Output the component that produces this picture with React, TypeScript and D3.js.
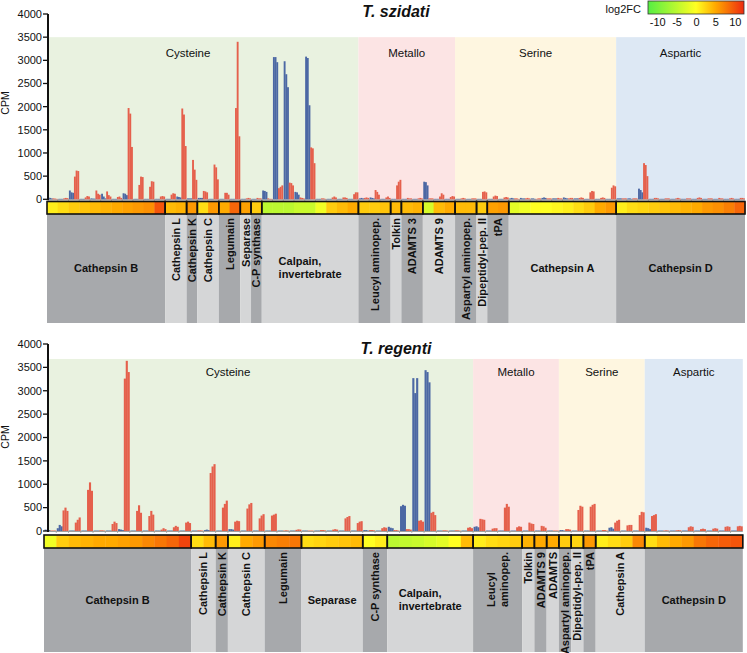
import React from "react";
import * as d3 from "d3";

const FONT = "'Liberation Sans', Arial, Helvetica, sans-serif";

type Seg = { name: string; n: number; fam: string };

const families = ["Cysteine", "Metallo", "Serine", "Aspartic"];
const familyColors = ["#e9f2e0", "#fce4e4", "#fef6e0", "#dde8f4"];
const cpmTicks = [0, 500, 1000, 1500, 2000, 2500, 3000, 3500, 4000];
const legendTicks = [-10, -5, 0, 5, 10];

// ---------- T. szidati ----------
const szSegments: Seg[] = [
  { name: "Cathepsin B", n: 11, fam: "Cysteine" },
  { name: "Cathepsin L", n: 2, fam: "Cysteine" },
  { name: "Cathepsin K", n: 1, fam: "Cysteine" },
  { name: "Cathepsin C", n: 2, fam: "Cysteine" },
  { name: "Legumain", n: 2, fam: "Cysteine" },
  { name: "Separase", n: 1, fam: "Cysteine" },
  { name: "C-P synthase", n: 1, fam: "Cysteine" },
  { name: "Calpain,\ninvertebrate", n: 9, fam: "Cysteine" },
  { name: "Leucyl aminopep.", n: 3, fam: "Metallo" },
  { name: "Tolkin", n: 1, fam: "Metallo" },
  { name: "ADAMTS 3", n: 2, fam: "Metallo" },
  { name: "ADAMTS 9", n: 3, fam: "Metallo" },
  { name: "Aspartyl aminopep.", n: 2, fam: "Serine" },
  { name: "Dipeptidyl-pep. II", n: 1, fam: "Serine" },
  { name: "tPA", n: 2, fam: "Serine" },
  { name: "Cathepsin A", n: 10, fam: "Serine" },
  { name: "Cathepsin D", n: 12, fam: "Aspartic" },
];

const szFC = [
  1, 2, 3, 3.5, 4, 4.5, 5, 5.5, 6, 6.5, 10,
  4, 4.5,
  6,
  2, 6,
  5, 9,
  5.5,
  3,
  -5, -5, -5, -4, -4, -1, 3, 4, 5,
  3, 3, 3.5,
  4,
  4, 4.5,
  -3, 4, 5,
  4, 4,
  3,
  5.5, 6,
  -2, -1, 0, 0, 0.5, 1, 2, 3, 5, 6,
  1, 2, 2.5, 3, 3.5, 4, 4.5, 5, 6, 6.5, 7.5, 9,
];

const szBlue = [
  [40, 30, 20], [10, 10, 10], [190, 150, 140], [10, 10, 10], [20, 15, 15], [120, 60, 20],
  [10, 10, 10], [130, 120, 90], [10, 10, 10], [10, 10, 10], [10, 10, 10],
  [10, 10, 10], [60, 50, 40],
  [20, 20, 20],
  [30, 30, 30], [10, 10, 10],
  [10, 10, 10], [10, 10, 10],
  [10, 10, 10],
  [10, 10, 10],
  [190, 180, 160], [3070, 3070, 2960], [2980, 2700, 2420], [160, 150, 100], [3080, 3050, 2030],
  [10, 10, 10], [10, 10, 10], [10, 10, 10], [10, 10, 10],
  [20, 30, 20], [40, 30, 20], [10, 10, 10],
  [10, 10, 10],
  [10, 10, 10], [10, 10, 10],
  [380, 370, 300], [10, 10, 10], [10, 10, 10],
  [10, 10, 10], [10, 10, 10],
  [10, 10, 10],
  [10, 10, 10], [10, 10, 10],
  [20, 30, 20], [30, 20, 20], [20, 20, 10], [30, 40, 30], [20, 20, 20], [40, 30, 20],
  [20, 20, 20], [10, 10, 10], [10, 10, 10], [10, 10, 10],
  [20, 20, 20], [20, 20, 10], [230, 200, 150], [10, 10, 10], [10, 10, 10], [10, 10, 10],
  [10, 10, 10], [10, 10, 10], [10, 10, 10], [10, 10, 10], [10, 10, 10], [10, 10, 10],
];

const szRed = [
  [20, 15, 10], [20, 30, 25], [490, 620, 610], [40, 70, 60], [190, 120, 100], [170, 90, 60],
  [50, 60, 30], [1970, 1850, 1130], [310, 490, 480], [270, 390, 380], [60, 70, 60],
  [100, 130, 120], [1960, 1830, 1150],
  [850, 640, 420],
  [180, 170, 150], [750, 690, 430],
  [140, 140, 100], [1970, 3400, 1360],
  [20, 30, 20],
  [30, 20, 20],
  [20, 10, 10], [240, 270, 300], [360, 350, 300], [40, 30, 20], [1120, 1100, 780],
  [20, 20, 10], [40, 60, 40], [40, 40, 30], [110, 150, 150],
  [30, 40, 30], [200, 160, 100], [40, 60, 30],
  [300, 380, 420],
  [30, 20, 20], [20, 30, 20],
  [20, 20, 20], [60, 130, 100], [50, 70, 60],
  [20, 30, 20], [20, 20, 20],
  [160, 170, 150],
  [60, 80, 70], [40, 50, 40],
  [20, 20, 10], [20, 30, 20], [10, 20, 20], [20, 20, 20], [30, 20, 20], [20, 30, 30],
  [30, 40, 30], [150, 180, 170], [30, 40, 30], [250, 300, 280],
  [20, 20, 20], [20, 20, 20], [780, 740, 500], [30, 30, 20], [20, 20, 20], [20, 30, 20],
  [20, 20, 20], [30, 40, 30], [20, 20, 20], [30, 20, 20], [20, 30, 20], [30, 30, 20],
];

// ---------- T. regenti ----------
const trSegments: Seg[] = [
  { name: "Cathepsin B", n: 12, fam: "Cysteine" },
  { name: "Cathepsin L", n: 2, fam: "Cysteine" },
  { name: "Cathepsin K", n: 1, fam: "Cysteine" },
  { name: "Cathepsin C", n: 3, fam: "Cysteine" },
  { name: "Legumain", n: 3, fam: "Cysteine" },
  { name: "Separase", n: 5, fam: "Cysteine" },
  { name: "C-P synthase", n: 2, fam: "Cysteine" },
  { name: "Calpain,\ninvertebrate", n: 7, fam: "Cysteine" },
  { name: "Leucyl\naminopep.", n: 4, fam: "Metallo" },
  { name: "Tolkin", n: 1, fam: "Metallo" },
  { name: "ADAMTS 9", n: 1, fam: "Metallo" },
  { name: "ADAMTS", n: 1, fam: "Metallo" },
  { name: "Aspartyl aminopep.", n: 1, fam: "Serine" },
  { name: "Dipeptidyl-pep. II", n: 1, fam: "Serine" },
  { name: "tPA", n: 1, fam: "Serine" },
  { name: "Cathepsin A", n: 4, fam: "Serine" },
  { name: "Cathepsin D", n: 8, fam: "Aspartic" },
];

const trFC = [
  -1, 3, 4, 4.5, 5, 5, 5.5, 6, 7, 8, 9, 11,
  2, 4,
  6,
  1, 5, 6,
  7, 7.5, 8,
  2, 2.5, 3, 3.5, 4,
  0, 1,
  -5, -4.5, -4, -3, -2, 0, 4,
  1, 2, 2.5, 3,
  4.5,
  5,
  5,
  3,
  2.5,
  6,
  1, 2, 3, 7,
  2, 4, 5, 6, 8, 9, 9.5, 10,
];

const trBlue = [
  [30, 20, 20], [60, 130, 100], [10, 10, 10], [10, 10, 10], [10, 10, 10], [10, 10, 10],
  [40, 30, 20], [10, 10, 10], [10, 10, 10], [10, 10, 10], [10, 10, 10], [10, 10, 10],
  [10, 10, 10], [20, 30, 20],
  [10, 10, 10],
  [40, 40, 30], [10, 10, 10], [10, 10, 10],
  [10, 10, 10], [10, 10, 10], [10, 10, 10],
  [10, 10, 10], [10, 10, 10], [10, 10, 10], [10, 10, 10], [10, 10, 10],
  [20, 20, 10], [10, 10, 10],
  [90, 70, 60], [530, 560, 540], [3270, 2950, 3270], [3440, 3400, 3180], [10, 10, 10], [10, 10, 10], [10, 10, 10],
  [90, 100, 80], [10, 10, 10], [10, 10, 10], [10, 10, 10],
  [10, 10, 10],
  [10, 10, 10],
  [10, 10, 10],
  [20, 20, 10],
  [10, 10, 10],
  [10, 10, 10],
  [10, 10, 10], [70, 80, 50], [10, 10, 10], [10, 10, 10],
  [70, 60, 40], [10, 10, 10], [10, 10, 10], [10, 10, 10], [10, 10, 10], [10, 10, 10], [10, 10, 10], [10, 10, 10],
];

const trRed = [
  [10, 10, 10], [440, 500, 430], [180, 240, 290], [880, 1040, 860], [15, 15, 10], [150, 200, 170],
  [3260, 3640, 3400], [430, 550, 390], [320, 430, 350], [30, 60, 40], [80, 110, 90], [180, 200, 170],
  [15, 15, 10], [1240, 1380, 1430],
  [500, 580, 650],
  [200, 220, 210], [480, 570, 600], [270, 330, 360],
  [330, 350, 370], [10, 15, 10], [25, 35, 30],
  [10, 10, 10], [20, 20, 15], [30, 40, 30], [270, 300, 320], [170, 200, 210],
  [20, 20, 15], [60, 80, 70],
  [20, 20, 10], [40, 40, 30], [220, 230, 200], [390, 410, 340], [15, 15, 10], [15, 15, 10], [70, 80, 60],
  [260, 250, 240], [50, 60, 60], [500, 580, 520], [80, 100, 90],
  [180, 160, 150],
  [110, 100, 70],
  [10, 10, 10],
  [40, 40, 30],
  [450, 540, 520],
  [520, 560, 580],
  [20, 20, 10], [180, 220, 240], [120, 130, 130], [340, 410, 400],
  [320, 340, 360], [10, 15, 10], [15, 20, 15], [80, 100, 90], [40, 50, 40], [50, 60, 50], [90, 100, 90], [100, 110, 100],
];

// ---------- layout ----------
const panels = [
  {
    title: "T. szidati", segs: szSegments, blue: szBlue, red: szRed, fc: szFC,
    x0: 47, x1: 745, yBase: 199.3, yTop: 14, bgMax: 3500,
    heatY: 201.5, heatH: 12.5, blockY1: 323, titleY: 17, famY: 57, cysX: 188,
    cpmY: 103,
  },
  {
    title: "T. regenti", segs: trSegments, blue: trBlue, red: trRed, fc: trFC,
    x0: 44, x1: 742.8, yBase: 531, yTop: 344, bgMax: 3680,
    heatY: 535, heatH: 13, blockY1: 652, titleY: 354, famY: 376, cysX: 228,
    cpmY: 437,
  },
];

const AXIS_X = 48;
const RED = "#e5604c";
const BLUE = "#4c68a4";
const DARK = "#a7a9ac";
const LIGHT = "#d5d6d7";

const fcColor = d3
  .scaleLinear<string>()
  .domain([-12.5, 0, 5, 12.5])
  .range(["#55ee44", "#ffff22", "#ffaa00", "#ee2a10"])
  .clamp(true);

let ctx: CanvasRenderingContext2D | null = null;
function measure(text: string, font: string) {
  if (!ctx) ctx = document.createElement("canvas").getContext("2d");
  if (!ctx) return text.length * 6;
  ctx.font = font;
  return ctx.measureText(text).width;
}

function Panel({ p }: { p: (typeof panels)[number] }) {
  const n = d3.sum(p.segs, (s) => s.n);
  const x = d3.scaleBand<number>().domain(d3.range(n)).range([p.x0, p.x1]);
  const bw = x.bandwidth();
  const sub = d3.scaleBand<number>().domain(d3.range(6)).range([bw * 0.04, bw * 0.98]);
  const y = d3.scaleLinear().domain([0, 4000]).range([p.yBase, p.yTop]);
  const xAt = (i: number) => (i >= n ? p.x1 : (x(i) as number));

  const starts: number[] = [];
  let acc = 0;
  p.segs.forEach((s) => {
    starts.push(acc);
    acc += s.n;
  });

  const famRanges = families.map((f) => {
    const idx = p.segs.map((s, i) => (s.fam === f ? i : -1)).filter((i) => i >= 0);
    const a = starts[idx[0]];
    const last = idx[idx.length - 1];
    const b = starts[last] + p.segs[last].n;
    return { f, a, b };
  });

  const blockTop = p.heatY + p.heatH;
  const blockMid = (blockTop + p.blockY1) / 2;
  const labelFont = `bold 11px ${FONT}`;

  return (
    <g>
      {famRanges.map((r, i) => {
        const xa = Math.max(AXIS_X, xAt(r.a));
        const xb = xAt(r.b);
        return (
          <rect key={r.f} x={xa} y={y(p.bgMax)} width={xb - xa} height={p.yBase - y(p.bgMax)} fill={familyColors[i]} />
        );
      })}
      {famRanges.map((r) => {
        const cx = r.f === "Cysteine" ? p.cysX : (Math.max(AXIS_X, xAt(r.a)) + xAt(r.b)) / 2;
        return (
          <text key={r.f + "t"} x={cx} y={p.famY} textAnchor="middle" fontSize={11.5} fontFamily={FONT} fill="#111">
            {r.f}
          </text>
        );
      })}

      <line x1={AXIS_X} x2={p.x1} y1={p.yBase + 0.5} y2={p.yBase + 0.5} stroke="#a0a0a0" strokeWidth={1.2} />
      {d3.range(1, n).map((i) => (
        <line key={"tk" + i} x1={xAt(i)} x2={xAt(i)} y1={p.yBase} y2={p.yBase + 2} stroke="#a0a0a0" strokeWidth={0.8} />
      ))}

      {d3.range(n).map((i) => (
        <g key={"g" + i} transform={`translate(${xAt(i)},0)`}>
          {p.blue[i].map((v, j) => (
            <rect key={"b" + j} x={sub(j)} width={sub.bandwidth() + 0.2} y={y(v)} height={p.yBase - y(v)} fill={BLUE} />
          ))}
          {p.red[i].map((v, j) => (
            <rect key={"r" + j} x={sub(j + 3)} width={sub.bandwidth() + 0.2} y={y(v)} height={p.yBase - y(v)} fill={RED} />
          ))}
        </g>
      ))}

      <line x1={AXIS_X} x2={AXIS_X} y1={p.yBase + 1} y2={y(4000)} stroke="#111" strokeWidth={2} />
      {cpmTicks.map((t) => (
        <g key={"yt" + t}>
          <line x1={AXIS_X - 5} x2={AXIS_X} y1={y(t)} y2={y(t)} stroke="#111" strokeWidth={1.3} />
          <text x={AXIS_X - 6} y={y(t)} dy="0.35em" textAnchor="end" fontSize={11} fontFamily={FONT} fill="#111">
            {t}
          </text>
        </g>
      ))}
      <text
        transform={`translate(9,${p.cpmY}) rotate(-90)`}
        textAnchor="middle"
        fontSize={10.5}
        fontFamily={FONT}
        fill="#111"
      >
        CPM
      </text>

      <text x={396} y={p.titleY} textAnchor="middle" fontSize={16} fontWeight="bold" fontStyle="italic" fontFamily={FONT} fill="#111">
        {p.title}
      </text>

      {p.segs.map((s, k) => {
        const xa = xAt(starts[k]);
        const xb = xAt(starts[k] + s.n);
        return (
          <rect key={"blk" + k} x={xa} y={blockTop} width={xb - xa} height={p.blockY1 - blockTop} fill={k % 2 === 0 ? DARK : LIGHT} />
        );
      })}

      {d3.range(n).map((i) => (
        <rect key={"h" + i} x={xAt(i)} y={p.heatY} width={bw + 0.4} height={p.heatH} fill={fcColor(p.fc[i])} />
      ))}
      {p.segs.map((s, k) => {
        const xa = xAt(starts[k]);
        const xb = xAt(starts[k] + s.n);
        return (
          <rect key={"hb" + k} x={xa} y={p.heatY} width={xb - xa} height={p.heatH} fill="none" stroke="#111" strokeWidth={1.6} />
        );
      })}

      {p.segs.map((s, k) => {
        const xa = xAt(starts[k]);
        const xb = xAt(starts[k] + s.n);
        const w = xb - xa;
        const cx = (xa + xb) / 2;
        const lines = s.name.split("\n");
        if (w < 55) {
          if (lines.length === 1) {
            return (
              <text
                key={"lb" + k}
                transform={`translate(${cx},${blockTop + 4}) rotate(-90)`}
                textAnchor="end"
                dominantBaseline="central"
                fontSize={11}
                fontWeight="bold"
                fontFamily={FONT}
                fill="#111"
              >
                {s.name}
              </text>
            );
          }
          const maxW = d3.max(lines, (l) => measure(l, labelFont)) as number;
          const by = blockTop + 4 + maxW;
          return (
            <g key={"lb" + k}>
              {lines.map((l, j) => (
                <text
                  key={j}
                  transform={`translate(${cx + (j - (lines.length - 1) / 2) * 12.5},${by}) rotate(-90)`}
                  textAnchor="start"
                  dominantBaseline="central"
                  fontSize={11}
                  fontWeight="bold"
                  fontFamily={FONT}
                  fill="#111"
                >
                  {l}
                </text>
              ))}
            </g>
          );
        }
        if (lines.length === 1) {
          return (
            <text key={"lb" + k} x={cx} y={blockMid} dy="0.35em" textAnchor="middle" fontSize={11} fontWeight="bold" fontFamily={FONT} fill="#111">
              {s.name}
            </text>
          );
        }
        const maxW = d3.max(lines, (l) => measure(l, labelFont)) as number;
        return (
          <g key={"lb" + k}>
            {lines.map((l, j) => (
              <text
                key={j}
                x={cx - maxW / 2}
                y={blockMid - 7 + j * 13}
                dy="0.35em"
                textAnchor="start"
                fontSize={11}
                fontWeight="bold"
                fontFamily={FONT}
                fill="#111"
              >
                {l}
              </text>
            ))}
          </g>
        );
      })}
    </g>
  );
}

function Legend() {
  const lx = d3.scaleLinear().domain([-12.5, 12.5]).range([648, 745]);
  const stops = fcColor.domain();
  return (
    <g>
      <defs>
        <linearGradient id="fcGrad" x1="0" x2="1" y1="0" y2="0">
          {stops.map((s) => (
            <stop key={s} offset={`${((s + 12.5) / 25) * 100}%`} stopColor={fcColor(s)} />
          ))}
        </linearGradient>
      </defs>
      <text x={641} y={13} textAnchor="end" fontSize={11} fontFamily={FONT} fill="#111">
        log2FC
      </text>
      <rect x={lx(-12.5)} y={1} width={lx(12.5) - lx(-12.5) - 1} height={13} fill="url(#fcGrad)" stroke="#333" strokeWidth={0.8} />
      {legendTicks.map((t) => (
        <text key={t} x={lx(t)} y={26} textAnchor="middle" fontSize={11} fontFamily={FONT} fill="#111">
          {t}
        </text>
      ))}
    </g>
  );
}

export default function App() {
  return (
    <svg
      width={747}
      height={653}
      viewBox="0 0 747 653"
      style={{ position: "absolute", left: 0, top: 0, background: "#fff" }}
    >
      <rect x={0} y={0} width={747} height={653} fill="#fff" />
      {panels.map((p) => (
        <Panel key={p.title} p={p} />
      ))}
      <Legend />
    </svg>
  );
}
